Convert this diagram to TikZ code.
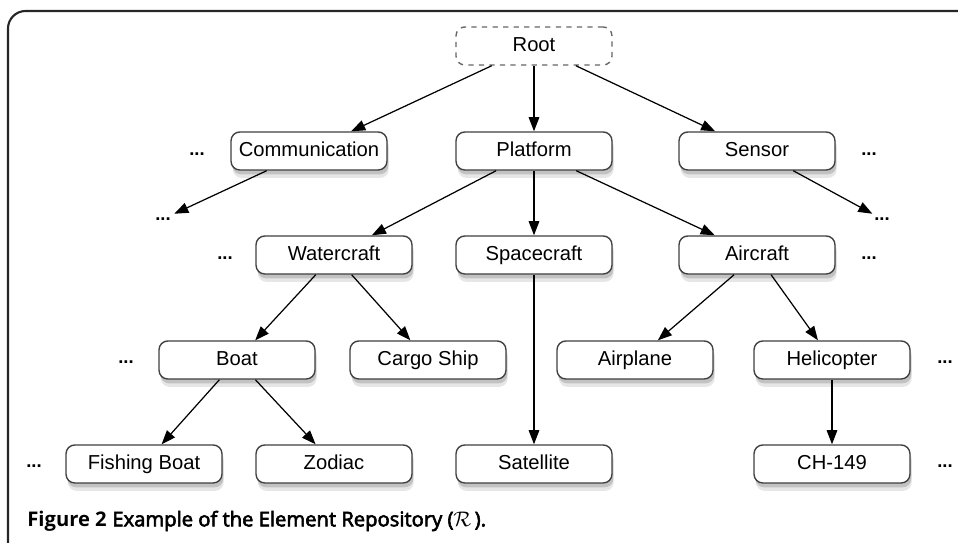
\documentclass[tikz,border=0pt]{standalone}
\usepackage{fontspec}
\usepackage{amsmath, amssymb}
\setmainfont{Liberation Sans}
\newfontfamily\capfont{Open Sans}
\newfontfamily\capsemi[FakeBold=3]{Open Sans}
\usepackage{tikz}
\usetikzlibrary{
  positioning,
  arrows.meta,
  shadows
}

\begin{document}
\begin{tikzpicture}[
      x=0.02cm, y=-0.02cm,
      elem/.style={rectangle, rounded corners=5pt, draw=black!75, fill=white, line width=0.8pt,
        minimum width=3.12cm, minimum height=0.76cm, inner sep=0pt, text height=0.72em, text depth=0.05em,
        font=\fontsize{11.5}{13}\selectfont,
        drop shadow={opacity=0.2, shadow xshift=1pt, shadow yshift=-4.5pt},
        drop shadow={opacity=0.35, shadow xshift=0.8pt, shadow yshift=-2.5pt}},
      rootnode/.style={rectangle, rounded corners=5pt, draw=black!60, fill=white, line width=0.8pt, dashed,
        minimum width=3.12cm, minimum height=0.76cm, inner sep=0pt, text height=0.72em, text depth=0.05em,
        font=\fontsize{11.5}{13}\selectfont},
      more/.style={inner sep=2pt, font=\fontsize{10.5}{12}\selectfont\bfseries},
      arrow/.style={-{Triangle[length=8pt, width=6pt]}, line width=0.7pt}
    ]
      \useasboundingbox (0,0) rectangle (958,543);
      % Frame
      \draw[line width=1.2pt, black!85, rounded corners=10pt] (8,545) -- (8,11) -- (960,11);

      % Nodes
      \node[rootnode] (root) at (534,46) {Root};
      \node[elem] (comm) at (309,151) {Communication};
      \node[elem] (platform) at (534,151) {Platform};
      \node[elem] (sensor) at (757,151) {Sensor};
      \node[elem] (water) at (334,255) {Watercraft};
      \node[elem] (space) at (534,255) {Spacecraft};
      \node[elem] (air) at (757,255) {Aircraft};
      \node[elem] (boat) at (237,360) {Boat};
      \node[elem] (cargo) at (428,360) {Cargo Ship};
      \node[elem] (plane) at (635,360) {Airplane};
      \node[elem] (heli) at (832,360) {Helicopter};
      \node[elem] (fish) at (144,464) {Fishing Boat};
      \node[elem] (zodiac) at (334,464) {Zodiac};
      \node[elem] (sat) at (534,464) {Satellite};
      \node[elem] (ch) at (832,464) {CH-149};

      % Ellipses
      \node[more] (commL) at (197,154) {...};
      \node[more] (sensorR) at (869,154) {...};
      \node[more] (commD) at (163,219) {...};
      \node[more] (sensorD) at (882,219) {...};
      \node[more] (waterL) at (225,258) {...};
      \node[more] (airR) at (869,258) {...};
      \node[more] (boatL) at (126,362) {...};
      \node[more] (heliR) at (945,362) {...};
      \node[more] (fishL) at (34,466) {...};
      \node[more] (chR) at (945,466) {...};

      % Arrows
      \draw[arrow] (root) -- (comm);
      \draw[arrow] (root) -- (platform);
      \draw[arrow] (root) -- (sensor);
      \draw[arrow] (comm) -- (commD);
      \draw[arrow] (sensor) -- (sensorD);
      \draw[arrow] (platform) -- (water);
      \draw[arrow] (platform) -- (space);
      \draw[arrow] (platform) -- (air);
      \draw[arrow] (water) -- (boat);
      \draw[arrow] (water) -- (cargo);
      \draw[arrow] (air) -- (plane);
      \draw[arrow] (air) -- (heli);
      \draw[arrow] (boat) -- (fish);
      \draw[arrow] (boat) -- (zodiac);
      \draw[arrow] (space) -- (sat);
      \draw[arrow] (heli) -- (ch);

      % Caption
      \node[anchor=west, inner sep=0pt, font=\fontsize{11.5}{13}\selectfont] (caption) at (27,521)
        {{\capfont\bfseries Figure 2} {\capsemi Example of the Element Repository ($\mathcal{R}$\,).}};
    \end{tikzpicture}
\end{document}
